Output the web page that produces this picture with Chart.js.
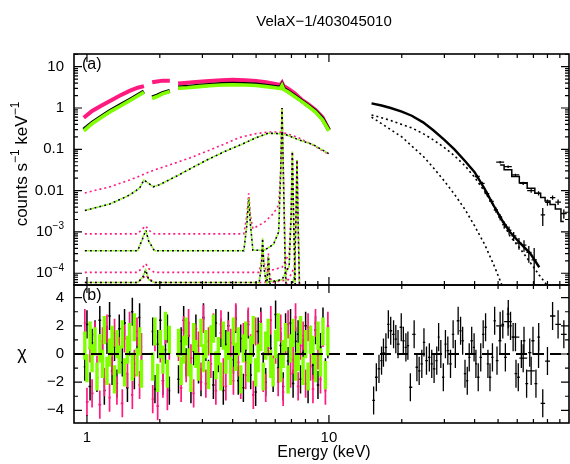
<!DOCTYPE html>
<html>
<head>
<meta charset="utf-8">
<script src="https://cdn.jsdelivr.net/npm/chart.js@4.4.1/dist/chart.umd.min.js"></script>
<style>
  html, body { margin: 0; padding: 0; background: #fff; }
  #spec { display: block; }
</style>
</head>
<body>
<canvas id="spec" width="570" height="464"></canvas>
<script>
/*  data
-------------------------------------------------------*/
// XIS spectra (counts s-1 keV-1), null = gap
var xisE      = [0.97, 1.05, 1.15, 1.25, 1.37, 1.5, 1.62, 1.72, 1.79, 1.86, 1.95, 2.05, 2.2, 2.3, 2.38, 2.6, 2.9, 3.2, 3.6, 4.0, 4.5, 5.0, 5.5, 6.0, 6.3, 6.4, 6.5, 6.8, 7.2, 7.7, 8.2, 8.8, 9.4, 10.0];
var xisPink   = [0.58, 0.85, 1.15, 1.5, 2.0, 2.6, 3.1, 3.4, null, 4.2, 4.4, 4.6, 4.6, null, 3.9, 4.1, 4.3, 4.5, 4.7, 4.8, 4.7, 4.5, 4.2, 3.8, 3.6, 4.1, 3.4, 2.9, 2.3, 1.6, 1.25, 0.9, 0.6, 0.3];
var xisBlack  = [0.3, 0.44, 0.63, 0.86, 1.16, 1.57, 2.05, 2.5, null, 1.8, 2.0, 2.3, 2.6, null, 3.15, 3.25, 3.45, 3.6, 3.8, 3.85, 3.8, 3.7, 3.45, 3.25, 3.1, 3.65, 2.95, 2.5, 2.0, 1.5, 1.15, 0.84, 0.55, 0.29];
var xisGreen  = [0.28, 0.42, 0.6, 0.82, 1.1, 1.5, 1.95, 2.4, null, 1.7, 1.9, 2.2, 2.5, null, 3.0, 3.1, 3.3, 3.45, 3.6, 3.65, 3.6, 3.5, 3.3, 3.1, 2.95, 3.5, 2.8, 2.4, 1.9, 1.45, 1.1, 0.8, 0.52, 0.28];

// model components (dotted)
var contE     = [0.98, 1.25, 1.5, 1.65, 1.72, 1.8, 1.88, 2.0, 2.35, 2.7, 3.13, 3.7, 4.29, 5.0, 5.6, 6.2, 6.7, 7.5, 8.6, 10.0];
var contPink  = [0.0088, 0.0125, 0.018, 0.0225, 0.025, 0.028, 0.031, 0.035, 0.048, 0.064, 0.09, 0.135, 0.195, 0.24, 0.262, 0.262, 0.24, 0.19, 0.127, 0.075];
var contBlack = [0.0033, 0.0048, 0.0078, 0.0115, 0.018, 0.015, 0.0124, 0.014, 0.0226, 0.035, 0.055, 0.088, 0.127, 0.19, 0.245, 0.24, 0.222, 0.17, 0.13, 0.078];

var kaE       = [0.98, 1.62, 1.70, 1.75, 1.80, 1.90, 4.45, 4.58, 4.66, 4.74, 4.85, 5.4, 5.9, 6.2, 6.32, 6.4, 6.48, 6.6, 6.75];
var kaPink    = [9e-4, 9e-4, 1.2e-3, 1.4e-3, 1.1e-3, 9e-4, 9e-4, 2.5e-3, 8.6e-3, 2.5e-3, 1.2e-3, 1.7e-3, 2.8e-3, 4.5e-3, 0.03, 1.0, 0.03, 2.5e-4, 2e-5];
var kaBlack   = [3.5e-4, 3.5e-4, 7e-4, 1.1e-3, 6e-4, 3.5e-4, 3.5e-4, 1.5e-3, 6.5e-3, 1.5e-3, 3.6e-4, 3.6e-4, 5e-4, 1e-3, 0.03, 1.0, 0.03, 1.2e-4, 1e-5];

var kbE       = [0.98, 1.62, 1.70, 1.75, 1.80, 1.90, 5.15, 5.26, 5.32, 5.38, 5.5, 6.4, 6.85, 6.98, 7.06, 7.14, 7.3];
var kbPink    = [1.05e-4, 1.05e-4, 1.4e-4, 1.7e-4, 1.3e-4, 1.05e-4, 1.05e-4, 2e-4, 4.5e-4, 2e-4, 1.1e-4, 1.4e-4, 3e-4, 3e-3, 0.088, 3e-3, 1e-5];
var kbBlack   = [6e-5, 6e-5, 8e-5, 1.2e-4, 7e-5, 6e-5, 6e-5, 1.5e-4, 7e-4, 1.5e-4, 6e-5, 7e-5, 1.5e-4, 2.5e-3, 0.088, 2.5e-3, 1e-5];

var l3E       = [0.98, 1.62, 1.70, 1.75, 1.80, 1.90, 5.45, 5.56, 5.62, 5.68, 5.8, 6.8, 7.2, 7.3, 7.38, 7.46, 7.6];
var l3Pink    = [6e-5, 6e-5, 7.5e-5, 9e-5, 7.5e-5, 6e-5, 6e-5, 1e-4, 3e-4, 1e-4, 6e-5, 7e-5, 1.4e-4, 2e-3, 0.055, 2e-3, 1e-5];
var l3Black   = [2e-5, 2e-5, 3e-5, 4e-5, 3e-5, 2e-5, 2e-5, 8e-5, 2.5e-4, 8e-5, 2e-5, 3e-5, 8e-5, 1.5e-3, 0.055, 1.5e-3, 1e-5];

// HXD-PIN
var pinE      = [15, 16.5, 18, 20, 22, 24.5, 27, 30, 33, 36.5, 40, 44, 48, 52, 56, 62, 68, 74, 80];
var pinTotal  = [1.3, 1.15, 1.0, 0.82, 0.65, 0.45, 0.29, 0.17, 0.1, 0.052, 0.028, 0.011, 0.0043, 0.0019, 0.001, 5.2e-4, 3e-4, 1.4e-4, null];
var pinComp1  = [0.68, 0.58, 0.5, 0.4, 0.33, 0.24, 0.17, 0.11, 0.07, 0.04, 0.021, 0.0095, 0.0042, 0.0018, 8e-4, 3.8e-4, 1.8e-4, 9e-5, 5e-5];
var pinComp2  = [0.6, 0.42, 0.3, 0.2, 0.12, 0.068, 0.036, 0.017, 0.0082, 0.0035, 0.0014, 5e-4, 1.6e-4, 5e-5, 1.5e-5, null, null, null, null];
var pinPtE    = [41, 43, 45, 47, 49, 51, 53, 55.5, 58, 61, 64, 67, 70.5];
var pinPtY    = [0.022, 0.015, 0.0085, 0.0055, 0.0034, 0.0023, 0.0015, 0.0011, 8e-4, 5.4e-4, 4.8e-4, 3.2e-4, 2.1e-4];
var pinPtErr  = [0.002, 0.0015, 0.001, 7e-4, 5e-4, 4e-4, 3e-4, 2.5e-4, 2e-4, 1.7e-4, 1.5e-4, 1.4e-4, 2e-4];

// HXD-GSO
var gsoE      = [51, 55, 59, 63.5, 68.5, 73.5, 76.5, 80, 84, 88.5, 93.5];
var gsoModel  = [0.042, 0.032, 0.022, 0.0155, 0.0115, 0.0086, 0.0068, 0.0056, 0.0046, 0.0036, 0.0018];
var gsoData   = [0.049, 0.038, 0.024, 0.015, 0.010, 0.0086, 0.0026, 0.0052, 0.0068, 0.0053, 0.0028];
var gsoErr    = [0.0035, 0.0025, 0.0018, 0.0014, 0.0011, 0.001, 0.0012, 0.0009, 0.0008, 0.0008, 0.0007];
var gsoRes    = [2.0, 2.3, 1.2, -0.3, -1.2, 0.0, -3.5, -0.5, 2.7, 2.1, 1.4];

// residuals (chi), error bar = 1 sigma
var chiErr = 1;
var xisResE = [0.98, 1.00, 1.03, 1.05, 1.08, 1.10, 1.13, 1.16, 1.18, 1.21, 1.24, 1.27, 1.30, 1.33, 1.36, 1.40, 1.43, 1.47, 1.50, 1.54, 1.57, 1.61, 1.65, 1.68,
  1.87, 1.91, 1.96, 2.01, 2.06, 2.11, 2.15, 2.19,
  2.39, 2.45, 2.51, 2.57, 2.63, 2.69, 2.76, 2.82, 2.89, 2.96, 3.03, 3.10, 3.18, 3.25, 3.33, 3.41, 3.49, 3.58, 3.66, 3.75, 3.84, 3.93, 4.03, 4.12, 4.22,
  4.32, 4.43, 4.53, 4.64, 4.75, 4.87, 4.98, 5.10, 5.23, 5.35, 5.48, 5.61, 5.75, 5.88, 6.02, 6.17, 6.32, 6.47, 6.62, 6.78, 6.94, 7.11, 7.28, 7.46, 7.63,
  7.82, 8.01, 8.20, 8.39, 8.59, 8.80, 9.01, 9.23, 9.45, 9.67, 9.90];
var resGreen = [0.6, -1.0, 1.3, -0.3, 0.9, -1.6, 0.4, -0.7, 1.7, -1.2, 0.1, 1.0, -1.8, 0.7, -0.4, 1.4, -1.3, 0.3, 1.2, -0.9, 1.9, -0.6, 0.9, -1.4,
  -0.9, 1.6, -1.7, 0.7, -0.4, 2.0, -1.4, 1.0,
  0.8, -1.2, 0.3, 1.6, -0.6, -1.7, 1.2, 0.0, -0.9, 1.5, -0.3, 0.7, -1.5, 1.0, 1.8, -0.8, 0.2, -1.6, 1.3, -0.4, 0.6, -1.2, 1.6, -0.2, 0.9,
  -1.8, 0.4, 1.3, -1.0, 0.3, 1.7, -1.3, -0.3, 1.2, -1.6, 0.6, 1.5, -0.7, -1.3, 0.7, 1.9, -1.0, 0.0, 1.2, -1.8, 0.4, 1.5, -0.9, -0.2, 1.7,
  -1.2, 0.7, -1.6, 1.0, 0.3, -1.0, 1.3, -0.6, 1.6, -1.5, 0.9];
var resBlack = [-0.9, 2.1, -2.3, 0.8, 1.4, -1.7, 2.4, -0.2, -2.6, 1.0, 2.7, -1.2, 0.5, -2.1, 1.8, -0.6, 2.2, -2.4, 0.9, 3.0, -1.5, 0.2, 2.6, -1.0,
  1.6, -2.5, 0.7, 2.4, -1.9, 0.3, 1.8, -2.6,
  -1.8, 0.9, 2.4, -0.6, 1.3, -2.5, 0.2, 1.8, -1.1, -2.0, 2.6, 0.5, -1.4, 1.0, -2.2, 2.2, -0.3, 1.5, -2.6, 0.7, 2.0, -1.2, -0.4, 2.5, -1.9,
  1.1, -2.4, 0.3, 2.1, -1.5, 0.8, -2.7, 1.6, 2.3, -0.9, -2.0, 1.2, 0.4, -1.7, 2.8, -1.0, 0.6, -2.3, 1.9, -0.5, 2.2, -2.1, 0.9, 1.4, -1.8,
  0.1, 2.0, -2.5, 1.0, -0.8, 1.7, -2.2, 0.5, 2.3, -1.3, 0.7];
var resPink = [2.2, -3.4, 0.4, -2.8, 1.3, -1.1, -3.6, 0.9, -2.0, 1.8, -3.1, -0.5, 1.5, -2.6, 0.2, -3.5, 1.1, -1.4, 2.0, -2.9, -0.7, 1.6, -2.2, 0.5,
  -3.2, 1.2, -3.7, 0.4, -2.1, 1.7, -3.0, 0.6,
  0.5, -2.4, 1.7, -1.0, 2.2, -0.3, -2.8, 1.1, 0.6, -1.6, 2.5, -2.1, 0.9, -0.7, 1.9, -2.6, 0.2, 2.1, -1.3, -2.3, 1.4, 0.8, -1.9, 2.6, -0.6,
  -2.2, 1.2, -1.5, 2.3, 0.4, -2.9, 1.6, -0.2, 2.0, -1.7, -2.4, 0.9, 2.4, -1.1, 0.3, -2.0, 1.8, -2.7, 1.0, 2.1, -1.4, -0.4, 2.6, -2.3, 0.6,
  1.3, -2.1, 1.9, -0.9, -2.5, 2.2, -0.1, -1.8, 1.5, -2.6, 2.0];
var pinResE = [15.3, 15.7, 16.1, 16.5, 16.8, 17.2, 17.6, 18.0, 18.5, 18.9, 19.3, 19.9, 20.3, 20.8, 21.2, 21.7, 22.5, 23.1, 23.6, 24.2, 24.7, 25.3, 26.0,
  26.6, 27.2, 27.9, 28.4, 29.0, 29.7, 30.3, 31.0, 31.8, 32.6, 33.3, 34.2, 35.0, 35.7, 36.5, 37.3, 38.0, 38.9, 39.8, 40.5, 41.4, 42.4, 43.4, 44.4,
  45.4, 46.3, 47.4, 48.4, 49.5, 50.9, 52.3, 53.6, 55.1, 56.3, 57.7, 59.3, 60.6, 62.4, 64.0, 65.6, 67.6, 69.7, 71.7, 73.6];
var pinRes = [-3.3, -1.65, -1.06, -0.47, 0.1, 0.47, 2.1, 1.65, 1.4, 1.06, 0.7, 1.9, 0.94, 0.47, 0.6, -2.36, 1.4, -0.94, -1.2, -0.7, 0.82, -0.47, -0.24,
  -0.7, -1.06, -0.47, 1.2, 0, -1.65, 0.7, 0.24, -0.7, 1.4, 0, 2.36, 1.65, 0.94, -1.4, -1.9, -0.24, 0.94, 0.47, -0.7, -1.65, -0.24, 1.4, 1.9,
  -0.7, -1.65, -0.24, 2.36, -0.47, 0.94, 2.1, -0.24, 2.83, 2.0, 1.2, -1.4, -1.65, 0, 0.94, -2.1, 0.1, 0.94, -2.1, 1.2];

// axis ticks
var xMajor = [1, 10, 100];
var xMinor = [2, 3, 4, 5, 6, 7, 8, 9, 20, 30, 40, 50, 60, 70, 80, 90];
var yaLabels = [[10, [['10']]], [1, [['1']]], [0.1, [['0.1']]], [0.01, [['0.01']]], [1e-3, [['10'], ['\u22123', 1]]], [1e-4, [['10'], ['\u22124', 1]]]];
var ybMajor = [-4, -2, 0, 2, 4];
var ybMinor = [-3, -1, 1, 3];

/*  styles
-------------------------------------------------------*/
var PINK = '#ff1a80', GREEN = '#80ff00', BLACK = '#000000';
var FONT = '"Liberation Sans", Arial, Helvetica, sans-serif';

function pts(xs, ys, es) {
  return xs.map(function (x, i) {
    return { x: x, y: ys[i], e: Array.isArray(es) ? es[i] : (es || 0) };
  });
}
function spectrum(xs, ys, color, w) {
  return { data: pts(xs, ys), yAxisID: 'ya', borderColor: color, borderWidth: w, pointRadius: 0, tension: 0, fill: false };
}
function dotted(xs, ys, color, off) {
  return { data: pts(xs, ys), yAxisID: 'ya', borderColor: color, borderWidth: 1.6, borderDash: [2, 3], borderDashOffset: off || 0,
           pointRadius: 0, tension: 0, fill: false };
}
function crosses(xs, ys, es, color, w, axis, gap) {
  return { data: pts(xs, ys, es), yAxisID: axis, showLine: false, pointRadius: 0, errColor: color, errWidth: w, gapRatio: gap };
}

/*  plugin: clip per panel, error bars, frame, ticks, labels
-------------------------------------------------------*/
function drawParts(ctx, parts, x, y, align, size, supSize) {
  var big = size + 'px ' + FONT, small = (supSize || Math.round(size * 0.68)) + 'px ' + FONT;
  var w = 0;
  parts.forEach(function (p) { ctx.font = p[1] ? small : big; w += ctx.measureText(p[0]).width; });
  var cx = align === 'right' ? x - w : (align === 'center' ? x - w / 2 : x);
  ctx.textAlign = 'left';
  ctx.textBaseline = 'middle';
  parts.forEach(function (p) {
    ctx.font = p[1] ? small : big;
    ctx.fillText(p[0], cx, p[1] ? y - size * 0.36 : y);
    cx += ctx.measureText(p[0]).width;
  });
}

var panelPlugin = {
  id: 'panels',
  beforeDatasetDraw: function (chart, args) {
    var m = args.meta, ctx = chart.ctx;
    ctx.save();
    ctx.beginPath();
    ctx.rect(m.xScale.left, m.yScale.top, m.xScale.right - m.xScale.left, m.yScale.bottom - m.yScale.top);
    ctx.clip();
  },
  afterDatasetDraw: function (chart, args) {
    var ctx = chart.ctx, ds = chart.data.datasets[args.index];
    if (ds.errColor) {
      var xs = args.meta.xScale, ys = args.meta.yScale, d = ds.data;
      ctx.strokeStyle = ds.errColor;
      ctx.lineWidth = ds.errWidth;
      ctx.beginPath();
      for (var i = 0; i < d.length; i++) {
        var p = d[i];
        if (p.y === null) continue;
        var lo = i > 0 && p.x / d[i - 1].x < ds.gapRatio ? Math.sqrt(d[i - 1].x * p.x) : null;
        var hi = i < d.length - 1 && d[i + 1].x / p.x < ds.gapRatio ? Math.sqrt(d[i + 1].x * p.x) : null;
        if (lo === null && hi !== null) lo = p.x * p.x / hi;
        if (hi === null && lo !== null) hi = p.x * p.x / lo;
        if (lo === null) { lo = p.x / 1.012; hi = p.x * 1.012; }
        var px = xs.getPixelForValue(p.x), py = ys.getPixelForValue(p.y);
        ctx.moveTo(xs.getPixelForValue(lo), py);
        ctx.lineTo(xs.getPixelForValue(hi), py);
        var top = ys.getPixelForValue(p.y + p.e);
        var bot = (ys.type === 'logarithmic' && p.y - p.e <= 0) ? ys.bottom + 10 : ys.getPixelForValue(p.y - p.e);
        ctx.moveTo(px, top);
        ctx.lineTo(px, bot);
      }
      ctx.stroke();
    }
    ctx.restore();
  },
  afterDatasetsDraw: function (chart) {
    var ctx = chart.ctx, xs = chart.scales.x, ya = chart.scales.ya, yb = chart.scales.yb;
    var L = xs.left, R = xs.right;
    ctx.save();

    // zero line of residual panel
    ctx.strokeStyle = BLACK;
    ctx.lineWidth = 1.8;
    ctx.setLineDash([11, 6]);
    ctx.beginPath();
    ctx.moveTo(L, yb.getPixelForValue(0));
    ctx.lineTo(R, yb.getPixelForValue(0));
    ctx.stroke();
    ctx.setLineDash([]);

    // frames
    ctx.lineWidth = 1.6;
    [ya, yb].forEach(function (s) { ctx.strokeRect(L, s.top, R - L, s.bottom - s.top); });

    // x ticks, inward on both edges of each panel
    ctx.lineWidth = 1.2;
    ctx.beginPath();
    [ya, yb].forEach(function (s) {
      xMajor.concat(xMinor).forEach(function (v) {
        var px = xs.getPixelForValue(v);
        if (px < L || px > R) return;
        var len = xMajor.indexOf(v) >= 0 ? 8 : 4;
        ctx.moveTo(px, s.top); ctx.lineTo(px, s.top + len);
        ctx.moveTo(px, s.bottom); ctx.lineTo(px, s.bottom - len);
      });
    });
    // y ticks, log panel
    for (var dec = -5; dec <= 1; dec++) {
      for (var k = 1; k <= 9; k++) {
        var v = k * Math.pow(10, dec);
        var py = ya.getPixelForValue(v);
        if (py < ya.top || py > ya.bottom) continue;
        var len = k === 1 ? 8 : 4;
        ctx.moveTo(L, py); ctx.lineTo(L + len, py);
        ctx.moveTo(R, py); ctx.lineTo(R - len, py);
      }
    }
    // y ticks, residual panel
    ybMajor.concat(ybMinor).forEach(function (v) {
      var py = yb.getPixelForValue(v);
      var len = ybMajor.indexOf(v) >= 0 ? 8 : 4;
      ctx.moveTo(L, py); ctx.lineTo(L + len, py);
      ctx.moveTo(R, py); ctx.lineTo(R - len, py);
    });
    ctx.stroke();

    // tick labels
    ctx.fillStyle = BLACK;
    yaLabels.forEach(function (t) { drawParts(ctx, t[1], 64, ya.getPixelForValue(t[0]), 'right', 15); });
    ybMajor.forEach(function (v) {
      drawParts(ctx, [[v < 0 ? '\u2212' + (-v) : String(v)]], 64, yb.getPixelForValue(v), 'right', 15);
    });
    [1, 10].forEach(function (v) {
      drawParts(ctx, [[String(v)]], xs.getPixelForValue(v), 438, 'center', 15);
    });

    // panel tags, titles
    drawParts(ctx, [['(a)']], L + 8, ya.top + 11, 'left', 16);
    drawParts(ctx, [['(b)']], L + 8, yb.top + 11, 'left', 16);
    drawParts(ctx, [['VelaX\u22121/403045010']], 324, 22, 'center', 15);
    drawParts(ctx, [['Energy (keV)']], 324, 453, 'center', 16);
    drawParts(ctx, [['\u03c7']], 22, yb.getPixelForValue(0), 'center', 18);

    ctx.translate(22, 164);
    ctx.rotate(-Math.PI / 2);
    drawParts(ctx, [['counts s'], ['\u22121', 1], [' keV'], ['\u22121', 1]], 0, 0, 'center', 17, 12);
    ctx.restore();
  }
};

/*  chart
-------------------------------------------------------*/
var ctx = document.getElementById('spec');
var datasets = [
  // top panel: data
  spectrum(xisE, xisGreen, GREEN, 3.6),
  spectrum(xisE, xisBlack, BLACK, 4),
  spectrum(xisE, xisPink, PINK, 4),
  spectrum(pinE, pinTotal, BLACK, 2.4),
  crosses(pinPtE, pinPtY, pinPtErr, BLACK, 1.3, 'ya', 1.2),
  Object.assign(spectrum(gsoE, gsoModel, BLACK, 1.5), { stepped: 'middle' }),
  crosses(gsoE, gsoData, gsoErr, BLACK, 1.3, 'ya', 1.2),
  // top panel: model components
  dotted(contE, contBlack, GREEN, 2.5),
  dotted(contE, contBlack, BLACK, 0),
  dotted(contE, contPink, PINK, 0),
  dotted(kaE, kaBlack, GREEN, 2.5),
  dotted(kaE, kaBlack, BLACK, 0),
  dotted(kaE, kaPink, PINK, 0),
  dotted(kbE, kbBlack, GREEN, 2.5),
  dotted(kbE, kbBlack, BLACK, 0),
  dotted(kbE, kbPink, PINK, 0),
  dotted(l3E, l3Black, GREEN, 2.5),
  dotted(l3E, l3Black, BLACK, 0),
  dotted(l3E, l3Pink, PINK, 0),
  dotted(pinE, pinComp1, BLACK, 0),
  dotted(pinE, pinComp2, BLACK, 0),
  // bottom panel: residuals
  crosses(xisResE, resGreen, chiErr, GREEN, 3.4, 'yb', 1.06),
  crosses(xisResE, resPink, chiErr, PINK, 1.7, 'yb', 1.06),
  crosses(xisResE, resBlack, chiErr, BLACK, 1.5, 'yb', 1.06),
  crosses(pinResE, pinRes, chiErr, BLACK, 1.3, 'yb', 1.06),
  crosses(gsoE, gsoRes, chiErr, BLACK, 1.3, 'yb', 1.2)
];

var specChart = new Chart(ctx, {
  type: 'line',
  data: { datasets: datasets },
  options: {
    responsive: false,
    animation: false,
    devicePixelRatio: 1,
    events: [],
    layout: { padding: { left: 74, right: 1, top: 54, bottom: 41 } },
    plugins: { legend: { display: false }, tooltip: { enabled: false } },
    scales: {
      x: { type: 'logarithmic', min: 0.884, max: 98.2, display: false },
      yb: { type: 'linear', min: -4.9, max: 4.9, stack: 'panels', stackWeight: 138, position: 'left', display: false },
      ya: { type: 'logarithmic', min: 5.2e-5, max: 20.3, stack: 'panels', stackWeight: 231, position: 'left', display: false }
    }
  },
  plugins: [panelPlugin]
});
</script>
</body>
</html>
